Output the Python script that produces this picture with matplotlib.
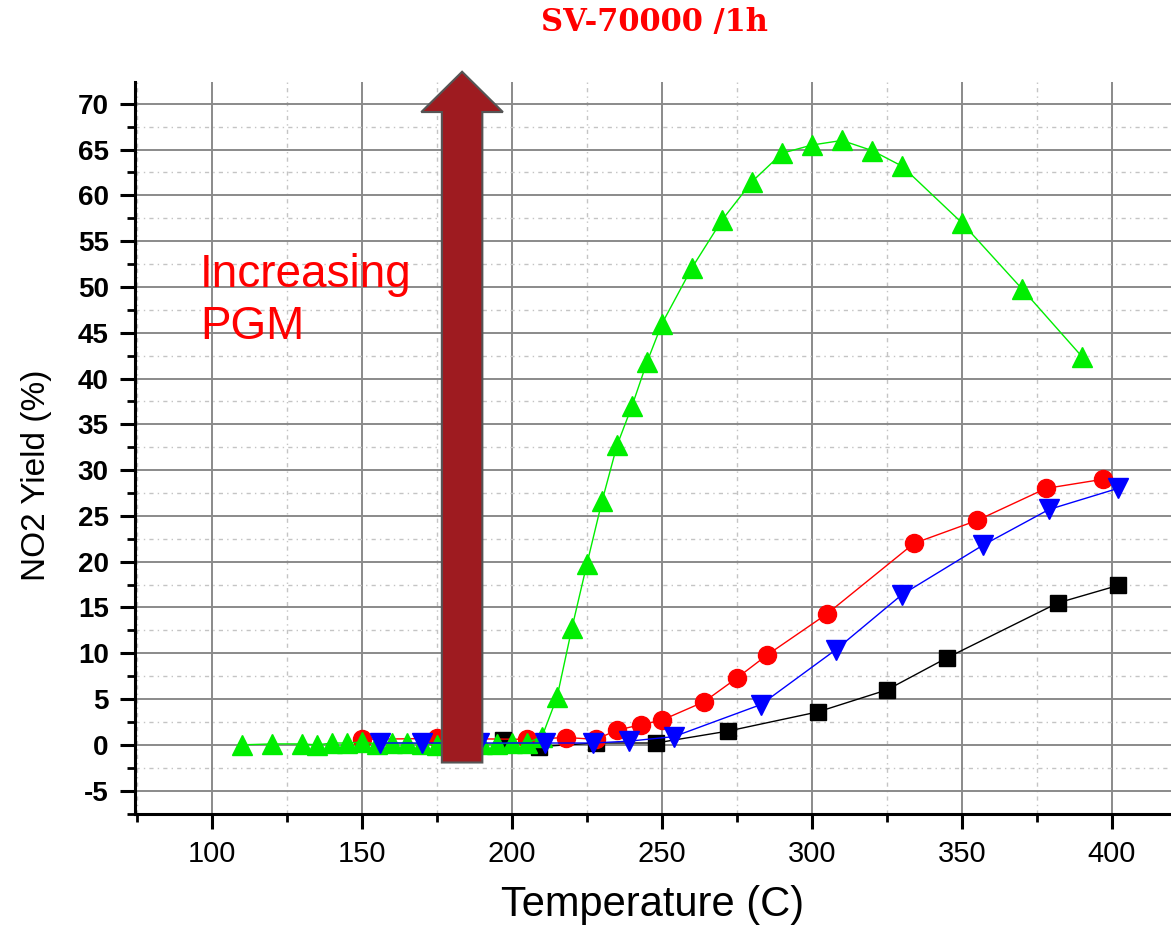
import matplotlib.pyplot as plt
from matplotlib.patches import FancyArrow
from matplotlib.ticker import MultipleLocator

plt.rcParams["font.family"] = ["Liberation Sans", "DejaVu Sans"]
plt.rcParams["axes.unicode_minus"] = False

# NO2 yield (%) vs temperature (C)
black_t = [197, 209, 228, 248, 272, 302, 325, 345, 382, 402]
black_y = [0.5, -0.2, 0.2, 0.2, 1.5, 3.6, 6.0, 9.5, 15.5, 17.4]

red_t = [150, 175, 205, 218, 228, 235, 243, 250, 264, 275, 285, 305, 334, 355, 378, 397]
red_y = [0.6, 0.7, 0.6, 0.8, 0.6, 1.6, 2.2, 2.7, 4.7, 7.3, 9.8, 14.3, 22.0, 24.5, 28.0, 29.0]

green_t = [110, 120, 130, 135, 140, 145, 150, 155, 160, 165, 170, 175, 180, 185, 190,
           195, 200, 205, 210, 215, 220, 225, 230, 235, 240, 245, 250, 260, 270, 280,
           290, 300, 310, 320, 330, 350, 370, 390]
green_y = [0.0, 0.1, 0.1, 0.0, 0.2, 0.2, 0.3, 0.1, 0.2, 0.2, 0.1, 0.0, 0.1, 0.0, 0.1,
           0.1, 0.2, 0.2, 0.9, 5.2, 12.8, 19.8, 26.6, 32.7, 37.0, 41.8, 46.0, 52.1, 57.3, 61.5,
           64.6, 65.5, 66.0, 64.9, 63.2, 57.0, 49.8, 42.4]

blue_t = [156, 170, 189, 211, 227, 239, 254, 283, 308, 330, 357, 379, 402]
blue_y = [0.2, 0.2, 0.2, 0.2, 0.2, 0.4, 0.9, 4.4, 10.4, 16.4, 21.8, 25.7, 28.0]

fig = plt.figure(figsize=(11.71, 9.31), dpi=100)
ax = fig.add_axes([0.1153, 0.1257, 0.8847, 0.7864])

ax.plot(black_t, black_y, color="black", lw=1, marker="s", ms=12, zorder=3)
ax.plot(red_t, red_y, color="red", lw=1, marker="o", ms=13, zorder=3)
ax.plot(green_t, green_y, color="#00ee00", lw=1, marker="^", ms=15, zorder=3)
ax.plot(blue_t, blue_y, color="blue", lw=1, marker="v", ms=14, zorder=3)

ax.set_xlim(74.3, 419.7)
ax.set_ylim(-7.55, 72.4)
ax.xaxis.set_major_locator(MultipleLocator(50))
ax.xaxis.set_minor_locator(MultipleLocator(25))
ax.yaxis.set_major_locator(MultipleLocator(5))
ax.yaxis.set_minor_locator(MultipleLocator(2.5))

ax.grid(True, which="major", color="#8a8a8a", lw=1.4)
ax.grid(True, which="minor", color="#c4c4c4", lw=1.0, linestyle=(0, (3, 3, 1, 3)))
ax.set_axisbelow(True)

for side in ["top", "right"]:
    ax.spines[side].set_visible(False)
for side in ["left", "bottom"]:
    ax.spines[side].set_linewidth(2.2)

ax.tick_params(which="major", direction="out", length=11, width=2.2, pad=8)
ax.tick_params(which="minor", direction="out", length=5.5, width=2.0)
ax.tick_params(axis="x", labelsize=21)
ax.tick_params(axis="y", labelsize=20)
for lab in ax.get_yticklabels():
    lab.set_fontweight("bold")

ax.set_xlabel("Temperature (C)", fontsize=30, labelpad=12)
ax.set_ylabel("NO2 Yield (%)", fontsize=24)
ax.yaxis.set_label_coords(-0.080, 0.463)

# annotation: big arrow and label
arrow = FancyArrow(183.35, -1.93, 0, 75.43, width=13.5, head_width=27.2,
                   head_length=4.4, length_includes_head=True,
                   facecolor="#9e1b20", edgecolor="#555555", lw=1.5,
                   zorder=5, clip_on=False)
ax.add_patch(arrow)
ax.text(96, 53.7, "Increasing\nPGM", color="red", fontsize=33, va="top",
        ha="left", linespacing=1.22, zorder=6)

fig.text(0.559, 0.976, "SV-70000 /1h", color="red", fontsize=22,
         fontweight="bold", family="DejaVu Serif", ha="center", va="center")

fig.savefig("out.png", dpi=100)
